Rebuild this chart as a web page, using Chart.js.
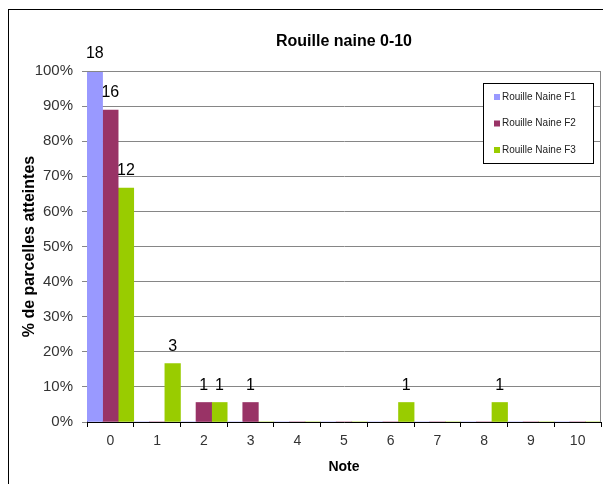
<!DOCTYPE html>
<html>
<head>
<meta charset="utf-8">
<script src="https://cdn.jsdelivr.net/npm/chart.js@4"></script>
<style>
    html, body { margin: 0; padding: 0; background: #fff; }
    #wrap { width: 603px; height: 484px; }
</style>
</head>
<body>
<div id="wrap"><canvas id="myChart" width="603" height="484"></canvas></div>
<script>
// notes 0-10, number of plots per note (total 18 plots)
var notes = ['0', '1', '2', '3', '4', '5', '6', '7', '8', '9', '10'];
var countF1 = [18, 0, 0, 0, 0, 0, 0, 0, 0, 0, 0];
var countF2 = [16, 0, 1, 1, 0, 0, 0, 0, 0, 0, 0];
var countF3 = [12, 3, 1, 0, 0, 0, 1, 0, 1, 0, 0];
var totalPlots = 18;
var yTicks = [0, 10, 20, 30, 40, 50, 60, 70, 80, 90, 100];

var seriesNames = ['Rouille Naine F1', 'Rouille Naine F2', 'Rouille Naine F3'];
var seriesColors = ['#9999FF', '#993366', '#99CC00'];

function toPct(counts) {
    return counts.map(function (c) { return c / totalPlots * 100; });
}

var counts = [countF1, countF2, countF3];
var font = '"Liberation Sans", Arial, sans-serif';

// white background + outer black frame
var frame = {
    id: 'frame',
    beforeDraw: function (chart) {
        var c = chart.ctx;
        c.save();
        c.fillStyle = '#fff';
        c.fillRect(0, 0, chart.width, chart.height);
        c.strokeStyle = '#000';
        c.lineWidth = 1;
        c.strokeRect(8.5, 9.5, 700, 700);
        c.restore();
    },
    afterDraw: function (chart) {
        var c = chart.ctx, a = chart.chartArea;
        c.save();
        // gray plot border top / right
        c.strokeStyle = '#868686';
        c.beginPath();
        c.moveTo(a.left, a.top + 0.5);
        c.lineTo(a.right - 0.5, a.top + 0.5);
        c.lineTo(a.right - 0.5, a.bottom);
        c.stroke();

        // title centered over the plot area
        c.fillStyle = '#000';
        c.font = 'bold 16px ' + font;
        c.textAlign = 'center';
        c.textBaseline = 'middle';
        c.fillText('Rouille naine 0-10', (a.left + a.right) / 2, 42);

        // count labels above bars
        c.font = '16px ' + font;
        c.textBaseline = 'alphabetic';
        chart.data.datasets.forEach(function (ds, i) {
            var meta = chart.getDatasetMeta(i);
            meta.data.forEach(function (bar, j) {
                var n = counts[i][j];
                if (!n) return;
                c.fillText(String(n), bar.x, bar.y - 13);
            });
        });

        // legend box
        var lx = 483, ly = 83, lw = 110, lh = 80;
        c.fillStyle = '#fff';
        c.fillRect(lx, ly, lw, lh);
        c.strokeStyle = '#000';
        c.strokeRect(lx + 0.5, ly + 0.5, lw, lh);
        c.font = '10px ' + font;
        c.textAlign = 'left';
        c.textBaseline = 'middle';
        seriesNames.forEach(function (name, i) {
            var yy = 97 + i * 26.5;
            c.fillStyle = seriesColors[i];
            c.fillRect(lx + 11, yy - 3, 6, 6);
            c.fillStyle = '#222';
            c.fillText(name, lx + 19, yy);
        });
        c.restore();
    }
};

var ctx = document.getElementById('myChart');
var myChart = new Chart(ctx, {
    type: 'bar',
    data: {
        labels: notes,
        datasets: seriesNames.map(function (name, i) {
            return {
                label: name,
                data: toPct(counts[i]),
                backgroundColor: seriesColors[i],
                borderWidth: 0,
                categoryPercentage: 1,
                barPercentage: 1
            };
        })
    },
    options: {
        responsive: false,
        animation: false,
        devicePixelRatio: 1,
        layout: { padding: { top: 71, left: 8, right: 2, bottom: 0 } },
        plugins: {
            legend: { display: false },
            title: { display: false },
            tooltip: { enabled: false }
        },
        scales: {
            x: {
                afterFit: function (scale) { scale.height = 62; },
                grid: {
                    offset: true,
                    drawOnChartArea: false,
                    tickLength: 5,
                    color: '#000'
                },
                border: { color: '#000' },
                ticks: {
                    padding: 6,
                    color: '#333',
                    font: { family: font, size: 14 }
                },
                title: {
                    display: true,
                    text: 'Note',
                    color: '#000',
                    font: { family: font, size: 14, weight: 'bold' },
                    padding: { top: 0, bottom: 8 }
                }
            },
            y: {
                min: 0,
                max: 100,
                afterFit: function (scale) { scale.width = 79; },
                afterBuildTicks: function (scale) {
                    scale.ticks = yTicks.map(function (v) { return { value: v }; });
                },
                grid: {
                    color: '#868686',
                    tickLength: 5
                },
                border: { color: '#000' },
                ticks: {
                    padding: 9,
                    color: '#333',
                    font: { family: font, size: 15 },
                    callback: function (v) { return v + '%'; }
                },
                title: {
                    display: true,
                    text: '% de parcelles atteintes',
                    color: '#000',
                    font: { family: font, size: 16, weight: 'bold' },
                    padding: { top: 12, bottom: 0 }
                }
            }
        }
    },
    plugins: [frame]
});
</script>
</body>
</html>
